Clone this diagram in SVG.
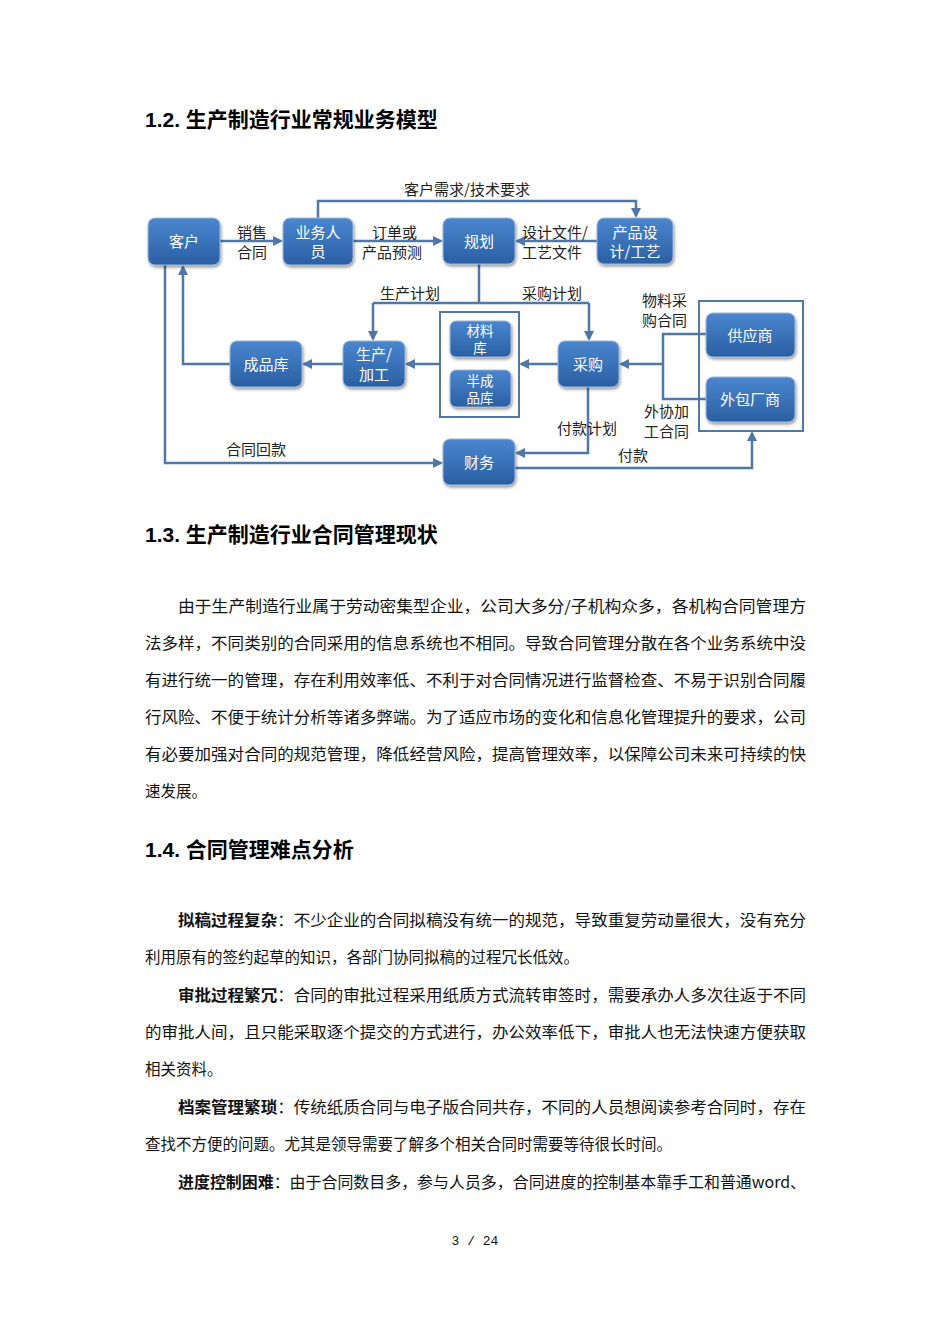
<svg xmlns="http://www.w3.org/2000/svg" width="950" height="1344" viewBox="0 0 950 1344">
<style>
.h{font-family:"Liberation Sans","Noto Sans CJK SC",sans-serif;font-size:21px;font-weight:bold;fill:#000}
.b{font-family:"Noto Sans CJK SC",sans-serif;font-size:15.5px;fill:#111}
.bb{font-weight:bold}
.n{font-family:"Noto Sans CJK SC",sans-serif;font-size:15px;fill:#fff;text-anchor:middle}
.ns{font-size:13.5px}
.l{font-family:"Noto Sans CJK SC",sans-serif;font-size:15px;fill:#222}
.c{fill:none;stroke:#4f77a8;stroke-width:2.5}
.box{fill:url(#g);stroke:#9db8d9;stroke-width:1;filter:url(#s)}
.ct{fill:#fff;stroke:#4f77a8;stroke-width:2}
</style>
<defs>
<linearGradient id="g" x1="0" y1="0" x2="0" y2="1"><stop offset="0" stop-color="#4a86cf"/><stop offset="1" stop-color="#2a5fa3"/></linearGradient>
<filter id="s" x="-20%" y="-20%" width="140%" height="150%"><feDropShadow dx="1" dy="2" stdDeviation="1.5" flood-color="#000" flood-opacity="0.4"/></filter>
<marker id="a" viewBox="0 0 10 10" refX="8" refY="5" markerWidth="4" markerHeight="4" orient="auto"><path d="M0,0 L10,5 L0,10 z" fill="#4f77a8"/></marker>
</defs>
<rect width="950" height="1344" fill="#fff"/>
<text class="h" x="145" y="127">1.2. 生产制造行业常规业务模型</text>
<g id="containers">
<rect class="ct" x="440" y="312" width="79" height="105"/>
<rect class="ct" x="699" y="301" width="104" height="130"/>
</g>
<g id="connectors">
<path class="c" d="M220,241 H281" marker-end="url(#a)"/>
<path class="c" d="M353,241 H441" marker-end="url(#a)"/>
<path class="c" d="M597,241 H517" marker-end="url(#a)"/>
<path class="c" d="M318,218 V201 H636 V216" marker-end="url(#a)"/>
<path class="c" d="M479,264 V303"/>
<path class="c" d="M373,303 H589"/>
<path class="c" d="M373,303 V339" marker-end="url(#a)"/>
<path class="c" d="M589,303 V339" marker-end="url(#a)"/>
<path class="c" d="M558,364 H521" marker-end="url(#a)"/>
<path class="c" d="M440,364 H407" marker-end="url(#a)"/>
<path class="c" d="M343,364 H304" marker-end="url(#a)"/>
<path class="c" d="M230,364 H183 V267" marker-end="url(#a)"/>
<path class="c" d="M165,265 V463 H441" marker-end="url(#a)"/>
<path class="c" d="M588,387 V453 H517" marker-end="url(#a)"/>
<path class="c" d="M515,468 H752 V433" marker-end="url(#a)"/>
<path class="c" d="M706,334 H663 V399 H706"/>
<path class="c" d="M663,364 H621" marker-end="url(#a)"/>
</g>
<g id="labels">
<text class="l" x="404" y="195">客户需求/技术要求</text>
<text class="l" x="237" y="238">销售</text><text class="l" x="237" y="258">合同</text>
<text class="l" x="372" y="238">订单或</text><text class="l" x="362" y="258">产品预测</text>
<text class="l" x="522" y="238">设计文件/</text><text class="l" x="522" y="258">工艺文件</text>
<text class="l" x="380" y="299">生产计划</text>
<text class="l" x="522" y="299">采购计划</text>
<text class="l" x="642" y="306">物料采</text><text class="l" x="642" y="326">购合同</text>
<text class="l" x="644" y="417">外协加</text><text class="l" x="644" y="437">工合同</text>
<text class="l" x="557" y="434">付款计划</text>
<text class="l" x="226" y="455">合同回款</text>
<text class="l" x="618" y="461">付款</text>
</g>
<g id="n-kehu"><rect class="box" x="148" y="218" width="72" height="47" rx="7"/><text class="n" x="184" y="247">客户</text></g>
<g id="n-yewu"><rect class="box" x="283" y="218" width="70" height="47" rx="7"/><text class="n" x="318" y="238">业务人</text><text class="n" x="318" y="257">员</text></g>
<g id="n-guihua"><rect class="box" x="443" y="218" width="72" height="46" rx="7"/><text class="n" x="479" y="247">规划</text></g>
<g id="n-sheji"><rect class="box" x="597" y="218" width="76" height="46" rx="7"/><text class="n" x="635" y="238">产品设</text><text class="n" x="635" y="257">计/工艺</text></g>
<g id="n-chengpin"><rect class="box" x="230" y="341" width="72" height="46" rx="7"/><text class="n" x="266" y="370">成品库</text></g>
<g id="n-shengchan"><rect class="box" x="343" y="341" width="62" height="46" rx="7"/><text class="n" x="374" y="360">生产/</text><text class="n" x="374" y="380">加工</text></g>
<g id="n-cailiao"><rect class="box" x="450" y="321" width="61" height="36" rx="6"/><text class="n ns" x="480" y="336">材料</text><text class="n ns" x="480" y="353">库</text></g>
<g id="n-banchengpin"><rect class="box" x="450" y="370" width="61" height="37" rx="6"/><text class="n ns" x="480" y="386">半成</text><text class="n ns" x="480" y="403">品库</text></g>
<g id="n-caigou"><rect class="box" x="558" y="341" width="61" height="46" rx="7"/><text class="n" x="588" y="370">采购</text></g>
<g id="n-gongying"><rect class="box" x="706" y="313" width="89" height="44" rx="7"/><text class="n" x="750" y="341">供应商</text></g>
<g id="n-waibao"><rect class="box" x="706" y="377" width="89" height="45" rx="7"/><text class="n" x="750" y="405">外包厂商</text></g>
<g id="n-caiwu"><rect class="box" x="443" y="439" width="72" height="46" rx="7"/><text class="n" x="479" y="468">财务</text></g>
<text class="h" x="145" y="542">1.3. 生产制造行业合同管理现状</text>
<text class="b" x="178" y="612" textLength="628" lengthAdjust="spacingAndGlyphs">由于生产制造行业属于劳动密集型企业，公司大多分/子机构众多，各机构合同管理方</text>
<text class="b" x="145" y="649" textLength="661" lengthAdjust="spacingAndGlyphs">法多样，不同类别的合同采用的信息系统也不相同。导致合同管理分散在各个业务系统中没</text>
<text class="b" x="145" y="686" textLength="661" lengthAdjust="spacingAndGlyphs">有进行统一的管理，存在利用效率低、不利于对合同情况进行监督检查、不易于识别合同履</text>
<text class="b" x="145" y="723" textLength="661" lengthAdjust="spacingAndGlyphs">行风险、不便于统计分析等诸多弊端。为了适应市场的变化和信息化管理提升的要求，公司</text>
<text class="b" x="145" y="760" textLength="661" lengthAdjust="spacingAndGlyphs">有必要加强对合同的规范管理，降低经营风险，提高管理效率，以保障公司未来可持续的快</text>
<text class="b" x="145" y="797">速发展。</text>
<text class="h" x="145" y="857">1.4. 合同管理难点分析</text>
<text class="b" x="178" y="926" textLength="628" lengthAdjust="spacingAndGlyphs"><tspan class="bb">拟稿过程复杂</tspan>：不少企业的合同拟稿没有统一的规范，导致重复劳动量很大，没有充分</text>
<text class="b" x="145" y="963">利用原有的签约起草的知识，各部门协同拟稿的过程冗长低效。</text>
<text class="b" x="178" y="1001" textLength="628" lengthAdjust="spacingAndGlyphs"><tspan class="bb">审批过程繁冗</tspan>：合同的审批过程采用纸质方式流转审签时，需要承办人多次往返于不同</text>
<text class="b" x="145" y="1038" textLength="661" lengthAdjust="spacingAndGlyphs">的审批人间，且只能采取逐个提交的方式进行，办公效率低下，审批人也无法快速方便获取</text>
<text class="b" x="145" y="1075">相关资料。</text>
<text class="b" x="178" y="1113" textLength="628" lengthAdjust="spacingAndGlyphs"><tspan class="bb">档案管理繁琐</tspan>：传统纸质合同与电子版合同共存，不同的人员想阅读参考合同时，存在</text>
<text class="b" x="145" y="1150">查找不方便的问题。尤其是领导需要了解多个相关合同时需要等待很长时间。</text>
<text class="b" x="178" y="1188" textLength="628" lengthAdjust="spacingAndGlyphs"><tspan class="bb">进度控制困难</tspan>：由于合同数目多，参与人员多，合同进度的控制基本靠手工和普通word、</text>
<text x="475" y="1245" text-anchor="middle" style="font-family:'Liberation Mono',monospace;font-size:13px;fill:#111">3 / 24</text>
</svg>
